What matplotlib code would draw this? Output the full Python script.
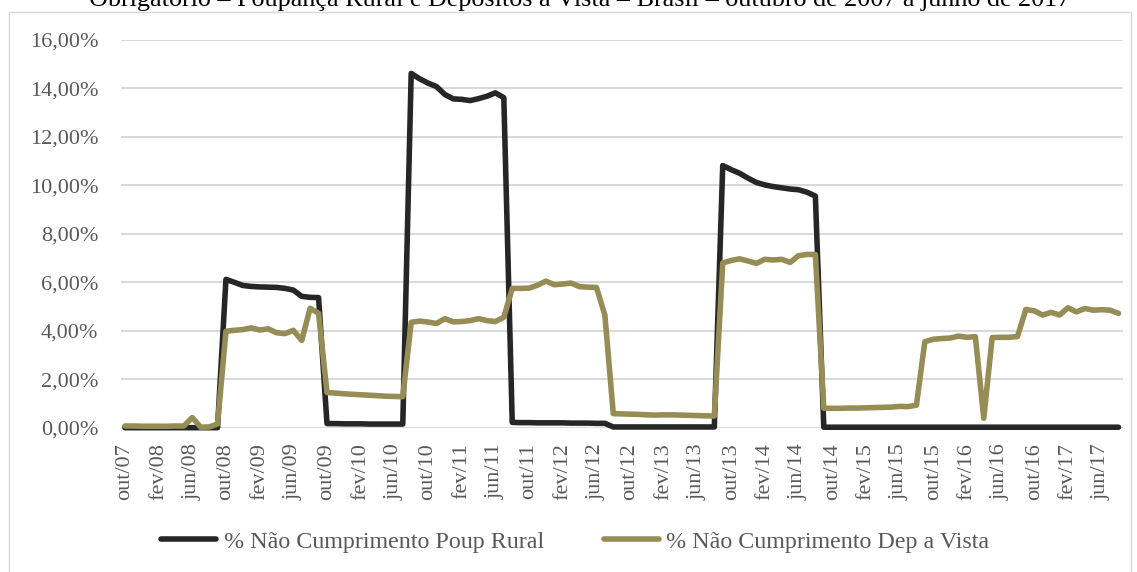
import matplotlib
matplotlib.use("Agg")
import matplotlib.pyplot as plt
from matplotlib.patches import Rectangle
from matplotlib.ticker import FuncFormatter

# monthly series, out/07 .. ago/17 (119 months), values in %
poup_rural = [
    0.00, 0.00, 0.00, 0.00, 0.00, 0.00, 0.00, 0.00, 0.00, 0.00, 0.00, 0.00,
    6.12, 6.00, 5.87, 5.83, 5.81, 5.80, 5.79, 5.75, 5.68, 5.42, 5.38, 5.37,
    0.17, 0.17, 0.16, 0.16, 0.16, 0.15, 0.15, 0.15, 0.15, 0.15,
    14.62, 14.40, 14.22, 14.08, 13.75, 13.57, 13.55, 13.50, 13.58, 13.68, 13.82, 13.62,
    0.22, 0.21, 0.21, 0.20, 0.20, 0.20, 0.20, 0.19, 0.19, 0.19, 0.18, 0.18,
    0.03, 0.03, 0.03, 0.03, 0.03, 0.03, 0.03, 0.03, 0.03, 0.03, 0.03, 0.03, 0.03,
    10.82, 10.65, 10.50, 10.30, 10.12, 10.02, 9.95, 9.90, 9.85, 9.82, 9.72, 9.56,
    0.02, 0.02, 0.02, 0.02, 0.02, 0.02, 0.02, 0.02, 0.02, 0.02, 0.02, 0.02,
    0.02, 0.02, 0.02, 0.02, 0.02, 0.02, 0.02, 0.02, 0.02, 0.02, 0.02, 0.02,
    0.02, 0.02, 0.02, 0.02, 0.02, 0.02, 0.02, 0.02, 0.02, 0.02, 0.02, 0.02,
]
dep_vista = [
    0.07, 0.07, 0.06, 0.06, 0.06, 0.06, 0.07, 0.07,
    0.42, 0.02, 0.03, 0.15,
    3.98, 4.02, 4.05, 4.12, 4.03, 4.08, 3.92, 3.88, 4.02, 3.60, 4.93, 4.72,
    1.45, 1.43, 1.40, 1.38, 1.36, 1.34, 1.32, 1.30, 1.29, 1.28,
    4.35, 4.40, 4.36, 4.30, 4.50, 4.37, 4.38, 4.42, 4.50, 4.42, 4.38, 4.56,
    5.75, 5.75, 5.76, 5.88, 6.05, 5.90, 5.93, 5.97, 5.82, 5.80, 5.79, 4.65,
    0.58, 0.57, 0.56, 0.55, 0.53, 0.52, 0.53, 0.53, 0.52, 0.51, 0.50, 0.49, 0.48,
    6.80, 6.90, 6.97, 6.88, 6.78, 6.95, 6.92, 6.95, 6.82, 7.10, 7.15, 7.15,
    0.80, 0.80, 0.80, 0.81, 0.81, 0.82, 0.83, 0.84, 0.85, 0.88, 0.87, 0.93,
    3.55, 3.65, 3.68, 3.70, 3.78, 3.73, 3.76, 0.39, 3.72, 3.73, 3.73, 3.76,
    4.88, 4.82, 4.65, 4.76, 4.65, 4.95, 4.78, 4.92, 4.85, 4.87, 4.85, 4.72,
]
# one label every 4 months
tick_labels = [
    "out/07", "fev/08", "jun/08", "out/08", "fev/09", "jun/09", "out/09", "fev/10",
    "jun/10", "out/10", "fev/11", "jun/11", "out/11", "fev/12", "jun/12", "out/12",
    "fev/13", "jun/13", "out/13", "fev/14", "jun/14", "out/14", "fev/15", "jun/15",
    "out/15", "fev/16", "jun/16", "out/16", "fev/17", "jun/17",
]
y_ticks = [0, 2, 4, 6, 8, 10, 12, 14, 16]
title = ("Obrigatório – Poupança Rural e Depósitos à Vista – Brasil – "
         "outubro de 2007 a junho de 2017")

plt.rcParams["font.family"] = ["Liberation Serif", "DejaVu Serif"]
W, H = 1137, 572
fig = plt.figure(figsize=(W / 100, H / 100), dpi=100)
ax = fig.add_axes([120.7 / W, 1 - 427.7 / H, 1002 / W, 387.7 / H])

x = list(range(len(poup_rural)))
style = dict(lw=4.0, solid_joinstyle="round", solid_capstyle="round", clip_on=False, zorder=3)
ax.plot(x, poup_rural, color="#262626", label="% Não Cumprimento Poup Rural", **style)
ax.plot(x, dep_vista, color="#968c55", label="% Não Cumprimento Dep a Vista", **style)

ax.set_xlim(-0.5, len(x) - 0.5)
ax.set_ylim(0, 16)
ax.set_yticks(y_ticks)
ax.yaxis.set_major_formatter(FuncFormatter(lambda v, _: f"{v:.2f}%".replace(".", ",")))
ax.set_xticks(x[::4][:len(tick_labels)])
ax.set_xticklabels(tick_labels, rotation=90, va="top", ha="center")
ax.tick_params(length=0, labelsize=16, labelcolor="#595959")
ax.tick_params(axis="y", pad=16)
ax.tick_params(axis="x", pad=11)
ax.grid(axis="y", color="#d9d9d9", lw=1.5, zorder=0)
for s in ax.spines.values():
    s.set_visible(False)

fig.legend(loc="center", bbox_to_anchor=(0.506, 1 - 541.7 / H), ncol=2, frameon=False,
           fontsize=17.3, labelcolor="#595959", handlelength=2.3, handletextpad=0.3,
           columnspacing=2.5)

fig.text(580 / W, 1 - 6 / H, title, ha="center", va="baseline", fontsize=18.8, color="#000000")
fig.patches.append(Rectangle((9 / W, -0.01), (1131 - 9) / W, 1 - 12 / H + 0.01,
                             transform=fig.transFigure, fill=False, ec="#d9d9d9", lw=1))

fig.savefig("out.png", dpi=100)
